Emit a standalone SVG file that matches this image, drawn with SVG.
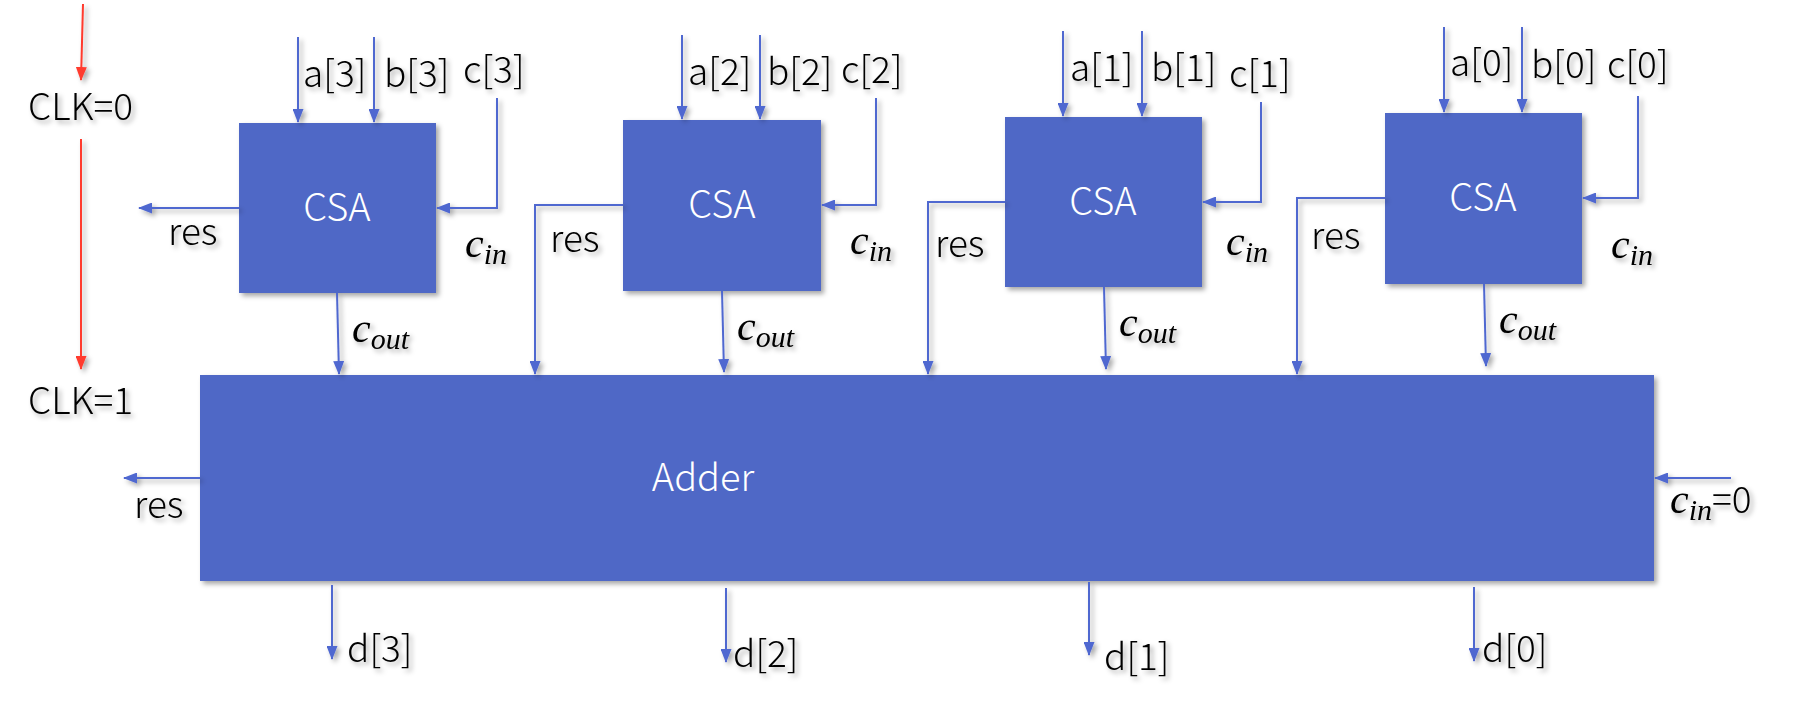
<svg xmlns="http://www.w3.org/2000/svg" width="1816" height="714" viewBox="0 0 1816 714">
<defs>
<filter id="sh" x="-20%" y="-20%" width="140%" height="160%">
<feDropShadow dx="3" dy="3" stdDeviation="2.5" flood-color="#000" flood-opacity="0.35"/>
</filter>
<marker id="arr" viewBox="0 0 14 11" refX="13" refY="5.5" markerWidth="14" markerHeight="11" markerUnits="userSpaceOnUse" orient="auto">
<path d="M0,0 L14,5.5 L0,11 z" fill="#4F67D0"/>
</marker>
<marker id="arrR" viewBox="0 0 14 11" refX="13" refY="5.5" markerWidth="14" markerHeight="11" markerUnits="userSpaceOnUse" orient="auto">
<path d="M0,0 L14,5.5 L0,11 z" fill="#FF3B2E"/>
</marker>
</defs>
<style>
.box{fill:#4F67C6;filter:url(#sh)}
.bt{font-family:"Noto Sans CJK SC","Noto Sans",sans-serif;font-weight:300;font-size:38px;fill:#fff;text-anchor:middle}
.t{font-family:"Noto Sans CJK SC","Noto Sans",sans-serif;font-weight:300;font-size:37px;fill:#000;filter:url(#sh)}
.m{font-family:"Liberation Serif",serif;font-style:italic;font-size:42px;fill:#000;filter:url(#sh)}
.sub{font-size:30px}
.eq{font-style:normal;font-family:"Noto Sans CJK SC",sans-serif;font-weight:300;font-size:37px}
.w{fill:none;stroke:#4F67D0;stroke-width:2;marker-end:url(#arr)}
.r{fill:none;stroke:#FF3B2E;stroke-width:2;marker-end:url(#arrR)}
.cn{filter:url(#sh)}
</style>
<rect width="1816" height="714" fill="#fff"/>

<g id="clk">
<text class="t" x="28" y="120">CLK=0</text>
<text class="t" x="28" y="414">CLK=1</text>
</g>

<g id="csa3">
<rect class="box" x="239" y="123" width="197" height="170"/>
<text class="bt" x="337" y="221">CSA</text>
</g>
<g id="csa2">
<rect class="box" x="623" y="120" width="198" height="171"/>
<text class="bt" x="722" y="218">CSA</text>
</g>
<g id="csa1">
<rect class="box" x="1005" y="117" width="197" height="170"/>
<text class="bt" x="1103" y="215">CSA</text>
</g>
<g id="csa0">
<rect class="box" x="1385" y="113" width="197" height="171"/>
<text class="bt" x="1483" y="211">CSA</text>
</g>
<g id="adder">
<rect class="box" x="200" y="375" width="1454" height="206"/>
<text class="bt" x="703" y="491">Adder</text>
</g>

<g id="connectors" class="cn">
<path class="r" d="M83,4 L81,80"/>
<path class="r" d="M81,139 L81,369"/>

<path class="w" d="M298,37 V122"/>
<path class="w" d="M374,37 V122"/>
<path class="w" d="M497,98 V208 H437"/>
<path class="w" d="M239,208 H139"/>
<path class="w" d="M337,293 L339,374"/>

<path class="w" d="M682,35 V119"/>
<path class="w" d="M760,35 V119"/>
<path class="w" d="M876,98 V205 H822"/>
<path class="w" d="M623,205 H535 V374"/>
<path class="w" d="M722,291 L724,372"/>

<path class="w" d="M1063,31 V116"/>
<path class="w" d="M1142,31 V116"/>
<path class="w" d="M1261,102 V202 H1203"/>
<path class="w" d="M1005,202 H928 V374"/>
<path class="w" d="M1104,287 L1106,369"/>

<path class="w" d="M1444,27 V112"/>
<path class="w" d="M1522,27 V112"/>
<path class="w" d="M1638,96 V198 H1583"/>
<path class="w" d="M1385,198 H1297 V374"/>
<path class="w" d="M1484,284 L1486,366"/>

<path class="w" d="M200,478 H124"/>
<path class="w" d="M1731,478 H1655"/>
<path class="w" d="M332,585 V659"/>
<path class="w" d="M726,588 V662"/>
<path class="w" d="M1089,582 V655"/>
<path class="w" d="M1474,587 V661"/>
</g>

<g id="labels">
<text class="t" x="303" y="87">a[3]</text>
<text class="t" x="384" y="87">b[3]</text>
<text class="t" x="463" y="83">c[3]</text>
<text class="t" x="168" y="245">res</text>
<text class="m" x="465" y="257">c<tspan class="sub" dy="7">in</tspan></text>
<text class="m" x="352" y="342">c<tspan class="sub" dy="7">out</tspan></text>

<text class="t" x="688" y="85">a[2]</text>
<text class="t" x="767" y="85">b[2]</text>
<text class="t" x="841" y="83">c[2]</text>
<text class="t" x="550" y="252">res</text>
<text class="m" x="850" y="254">c<tspan class="sub" dy="7">in</tspan></text>
<text class="m" x="737" y="340">c<tspan class="sub" dy="7">out</tspan></text>

<text class="t" x="1070" y="81">a[1]</text>
<text class="t" x="1151" y="81">b[1]</text>
<text class="t" x="1229" y="87">c[1]</text>
<text class="t" x="935" y="257">res</text>
<text class="m" x="1226" y="255">c<tspan class="sub" dy="7">in</tspan></text>
<text class="m" x="1119" y="336">c<tspan class="sub" dy="7">out</tspan></text>

<text class="t" x="1450" y="76">a[0]</text>
<text class="t" x="1531" y="78">b[0]</text>
<text class="t" x="1607" y="78">c[0]</text>
<text class="t" x="1311" y="249">res</text>
<text class="m" x="1611" y="258">c<tspan class="sub" dy="7">in</tspan></text>
<text class="m" x="1499" y="333">c<tspan class="sub" dy="7">out</tspan></text>

<text class="t" x="134" y="518">res</text>
<text class="m" x="1670" y="513">c<tspan class="sub" dy="7">in</tspan><tspan class="eq" dy="-7">=0</tspan></text>
<text class="t" x="347" y="662">d[3]</text>
<text class="t" x="733" y="667">d[2]</text>
<text class="t" x="1104" y="670">d[1]</text>
<text class="t" x="1482" y="662">d[0]</text>
</g>
</svg>
